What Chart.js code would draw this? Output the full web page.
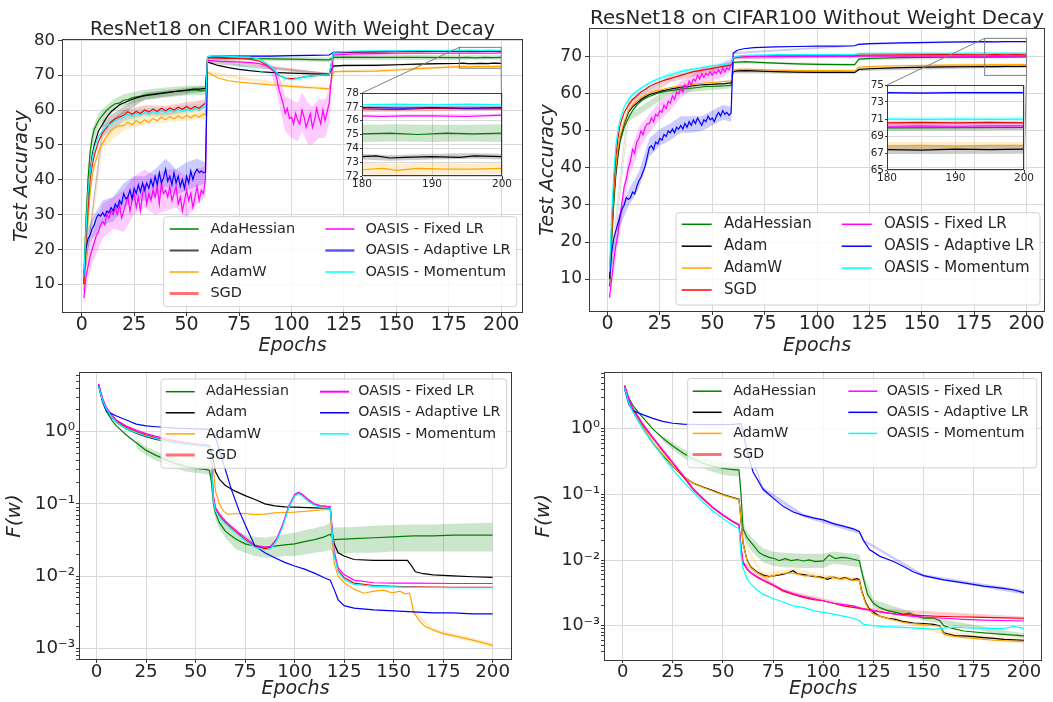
<!DOCTYPE html>
<html lang="en">
<head>
<meta charset="UTF-8">
<title>ResNet18 on CIFAR100</title>
<script src="https://cdn.jsdelivr.net/npm/chart.js"></script>
<style>
  body { margin: 0; background: #fff; width: 1053px; height: 702px; position: relative; overflow: hidden; }
  canvas { position: absolute; }
</style>
</head>
<body>
<canvas id="accWd"></canvas>
<canvas id="accNoWd"></canvas>
<canvas id="lossWd"></canvas>
<canvas id="lossNoWd"></canvas>
<canvas id="accWdZoom"></canvas>
<canvas id="accNoWdZoom"></canvas>
<script>
// ---------- series ----------
const seriesKeys = ['adahessian', 'adam', 'adamw', 'sgd', 'fixed', 'adaptive', 'momentum'];
const seriesNames = ['AdaHessian', 'Adam', 'AdamW', 'SGD', 'OASIS - Fixed LR', 'OASIS - Adaptive LR', 'OASIS - Momentum'];
const seriesColors = ['#008000', '#000000', '#ffa500', '#ff0000', '#ff00ff', '#0000ff', '#00ffff'];

const epochTicks = [0, 25, 50, 75, 100, 125, 150, 175, 200];
const accWdTicks = [10, 20, 30, 40, 50, 60, 70, 80];
const accNoWdTicks = [10, 20, 30, 40, 50, 60, 70];
const lossTicks = [0.001, 0.01, 0.1, 1];
const lossTickLabels = ['10\u207B\u00B3', '10\u207B\u00B2', '10\u207B\u00B9', '10\u2070'];
const zoomEpochTicks = [180, 190, 200];
const accWdZoomTicks = [72, 73, 74, 75, 76, 77, 78];
const accNoWdZoomTicks = [65, 67, 69, 71, 73, 75];

// ---------- test accuracy, with weight decay: [epoch, accuracy] ----------
const accWdAdaHessian = [[1,12],[2,28],[3,40],[4,48],[5,52],[6,54.5],[8,57],[10,58.5],[12,60],[14,61],[16,61.8],[18,62],[20,62.8],[22,63],[24,63.5],[26,63.8],[28,64],[30,64.3],[33,64.6],[36,64.8],[39,65],[42,65.2],[45,65.4],[48,65.5],[51,65.6],[54,65.8],[57,65.5],[59,65.6],[60,75.2],[62,75.2],[70,75],[80,74.8],[90,74.7],[100,74.6],[110,74.5],[118,74.4],[120,75.1],[125,75.2],[140,75.1],[160,75.1],[180,75.05],[184,75.1],[188,75],[192,75.1],[196,75.05],[200,75.1]];
const accWdAdam = [[1,10],[2,22],[3,34],[4,42],[5,47],[6,50],[8,54],[10,56],[12,58],[14,59.5],[16,60.5],[18,61.5],[20,62],[23,62.8],[26,63.5],[29,64],[32,64.3],[35,64.5],[38,64.8],[41,65],[44,65.3],[47,65.5],[50,65.7],[53,66],[56,66],[59,66.2],[60,73.8],[62,73.4],[65,72.8],[70,72.2],[75,71.7],[80,71.3],[85,71],[90,70.8],[100,70.6],[110,70.4],[118,70.3],[120,72.6],[125,72.8],[130,72.8],[140,72.8],[150,73],[160,73.2],[170,73.3],[180,73.4],[182,73.45],[184,73.3],[186,73.35],[190,73.4],[194,73.35],[196,73.45],[200,73.4]];
const accWdAdamW = [[1,8],[2,18],[3,28],[4,36],[5,41],[6,44],[8,48],[10,50.5],[12,52.5],[14,54],[16,55],[18,55.5],[20,55.5],[22,56.5],[24,55.8],[26,57],[28,56.2],[30,57.2],[32,56.5],[34,57.6],[36,56.9],[38,58],[40,57.2],[42,58.1],[44,57.5],[46,58.3],[48,57.6],[50,58.5],[52,57.8],[54,58.6],[56,58],[58,58.8],[59,58.6],[60,70.8],[62,70.2],[65,69.2],[70,68.4],[75,68],[80,67.7],[85,67.5],[90,67.2],[95,67],[100,66.8],[105,66.6],[110,66.4],[115,66.2],[118,66.1],[120,71],[125,71.1],[130,71.1],[140,71.2],[150,71.5],[160,71.9],[170,72.2],[180,72.45],[183,72.55],[185,72.4],[188,72.55],[192,72.5],[196,72.5],[200,72.55]];
const accWdSgd = [[1,10],[2,22],[3,32],[4,40],[5,44],[6,47],[8,51],[10,53.5],[12,55],[14,56.5],[16,57.5],[18,58],[20,58.5],[22,59.5],[24,58.8],[26,59.6],[28,59],[30,60],[32,59.4],[34,60.3],[36,59.6],[38,60.5],[40,59.8],[42,60.6],[44,60],[46,60.8],[48,60.2],[50,61],[52,60.3],[54,61],[56,60.5],[58,61.5],[59,62],[60,75],[62,75],[66,74.9],[70,74.8],[75,74.8],[80,74.6],[85,74],[88,73],[91,71.5],[94,70],[97,69.2],[100,69],[103,69.2],[106,69.5],[110,69.8],[114,70],[118,70.1],[120,76.4],[125,76.5],[130,76.6],[140,76.7],[150,76.8],[160,76.8],[170,76.85],[180,76.85],[185,76.8],[190,76.9],[195,76.85],[200,76.85]];
const accWdFixed = [[1,6],[2,12],[3,15],[4,18],[5,20],[6,22],[7,24],[8,25],[9,27],[10,28],[11,27],[12,30],[13,29],[14,31],[15,30],[16,32],[17,30],[18,33],[19,29],[20,31],[21,33],[22,35],[23,31],[24,34],[25,36],[26,32],[27,35],[28,31],[29,36],[30,38],[31,33],[32,36],[33,34],[34,37],[35,35],[36,38],[37,33],[38,39],[39,36],[40,37],[41,35],[42,38],[43,34],[44,36],[45,38],[46,33],[47,35],[48,31],[49,34],[50,37],[51,34],[52,36],[53,32],[54,35],[55,38],[56,34],[57,37],[58,36],[59,40],[60,74.3],[62,74.2],[66,74],[70,73.9],[75,73.8],[80,73.7],[85,73.3],[88,72.8],[90,72.2],[92,71],[93,69],[94,66],[95,64],[96,62],[97,59],[98,60.5],[99,57.5],[100,58],[101,56],[102,59],[103,57],[104,56],[105,60],[106,58],[107,55],[108,57],[109,59],[110,55],[111,57],[112,60.5],[113,58],[114,56],[115,60],[116,57],[117,59.5],[118,62],[120,75.8],[125,76],[130,76.1],[140,76.2],[150,76.3],[160,76.3],[170,76.3],[180,76.35],[183,76.3],[186,76.35],[190,76.35],[195,76.3],[200,76.4]];
const accWdAdaptive = [[1,12],[2,20],[3,23],[4,24],[5,26],[6,27],[7,29],[8,30],[9,29.5],[10,30.5],[11,29.5],[12,31],[13,30.5],[14,32],[15,31],[16,33],[17,32],[18,34],[19,33],[20,36],[21,34.5],[22,35],[23,37],[24,34.5],[25,37.5],[26,36],[27,38.5],[28,36.5],[29,39],[30,37],[31,39],[32,37.5],[33,40],[34,38],[35,41],[36,38.5],[37,42],[38,39],[39,40.5],[40,43],[41,39.5],[42,41],[43,38.5],[44,42],[45,39],[46,41],[47,38],[48,40],[49,37.5],[50,41],[51,39],[52,42.5],[53,40],[54,42],[55,43],[56,42],[57,42.5],[58,42],[59,42.2],[60,75.3],[62,75.4],[70,75.5],[80,75.5],[90,75.5],[100,75.6],[110,75.7],[118,75.8],[120,76.6],[125,76.7],[140,76.8],[160,76.9],[180,76.95],[186,76.9],[190,76.95],[195,76.9],[200,76.95]];
const accWdMomentum = [[1,12],[2,25],[3,36],[4,42],[5,46],[6,49],[8,52.5],[10,54],[12,55.5],[14,56],[16,57],[18,57.5],[20,58],[22,58.8],[24,58.2],[26,59],[28,58.5],[30,59.3],[32,58.8],[34,59.6],[36,59],[38,59.8],[40,59.3],[42,60],[44,59.4],[46,60.2],[48,59.6],[50,60.3],[52,59.8],[54,60.4],[56,60],[58,60.8],[59,61],[60,75.3],[62,75.5],[66,75.5],[70,75.4],[75,75.3],[80,75.2],[85,74.6],[88,73.5],[91,72],[94,70.2],[97,69],[100,68.7],[103,69],[106,69.5],[110,69.8],[114,70],[118,70.2],[120,76.6],[125,76.8],[130,76.9],[140,77],[150,77],[160,77.1],[170,77.1],[180,77.15],[185,77.2],[190,77.15],[195,77.2],[200,77.15]];

// shaded spread: [epoch, low, high]
const accWdAdaHessianBand = [[1,10,14],[3,37,43],[5,49.5,54.5],[8,55,59],[10,56.8,60.3],[15,59.5,63],[20,61.2,64.5],[30,62.8,65.8],[40,63.6,66.5],[50,64.2,67],[59,64.3,67],[60,74.5,75.9],[80,74.2,75.5],[100,74,75.3],[118,73.8,75.1],[120,74.4,75.8],[140,74.4,75.8],[160,74.4,75.8],[180,74.45,75.7],[185,74.5,75.75],[190,74.45,75.7],[195,74.5,75.7],[200,74.45,75.75]];
const accWdAdamBand = [[1,9,11],[10,55,57],[30,63,65],[59,65.3,67],[60,73.4,74.2],[118,69.9,70.7],[120,72.3,72.9],[150,72.7,73.3],[180,73.2,73.6],[184,73.1,73.5],[190,73.2,73.6],[196,73.25,73.65],[200,73.2,73.6]];
const accWdAdamWBand = [[1,7,9],[10,49,52],[20,54.2,57.2],[30,55.8,58.5],[40,56.4,59],[50,57,59.8],[59,57.5,60],[60,70.3,71.3],[100,66.3,67.3],[118,65.6,66.6],[120,70.6,71.4],[150,71.1,71.9],[170,71.8,72.6],[180,72.1,72.95],[185,72.05,72.9],[190,72.1,72.95],[195,72.1,72.9],[200,72.15,72.95]];
const accWdSgdBand = [[1,9,11],[10,52,55],[20,57,60],[30,58.6,61.4],[40,58.5,61.2],[50,59.6,62.2],[59,60.5,63],[60,74.7,75.3],[118,69.7,70.5],[120,76.2,76.6],[200,76.75,76.95]];
const accWdFixedBand = [[1,4,8],[3,11,19],[5,16,24],[10,23,33],[15,26,35],[20,25,37],[25,30,41],[30,32,43],[35,30,41],[40,31,43],[45,32,43],[50,29,41],[55,33,43],[59,35,44],[60,74,74.6],[85,73,73.6],[90,71.4,73],[93,65,72],[95,59,68],[97,54,64],[100,52,63],[103,51,62],[105,54,65],[108,50,62],[110,50,61],[113,52,63],[116,52,63],[118,56,66],[120,75.6,76],[180,76.25,76.45],[200,76.3,76.5]];
const accWdAdaptiveBand = [[1,10,14],[3,20,26],[5,23,29],[10,27,34],[15,28,35],[20,32,39],[25,34,41],[30,34,41],[35,35,43],[40,38,46],[45,35.5,43],[50,37,45],[55,38,46],[59,39,45],[60,75.1,75.5],[118,75.6,76],[120,76.4,76.8],[180,76.85,77.05],[200,76.85,77.05]];
const accWdMomentumBand = [[1,11,13],[10,52.5,55.5],[20,56.5,59.5],[30,58,60.6],[40,58,60.6],[50,59,61.6],[59,60,62],[60,75.1,75.5],[100,68.3,69.1],[118,69.8,70.6],[120,76.4,76.8],[180,77.05,77.25],[190,77.05,77.25],[200,77.05,77.25]];

// ---------- test accuracy, without weight decay ----------
const accNoWdAdaHessian = [[1,8],[2,20],[3,30],[4,38],[5,43],[6,47],[8,51],[10,53.5],[12,55.5],[14,57],[16,58],[18,58.8],[20,59.3],[23,60],[26,60.5],[29,60.8],[32,61],[35,61.3],[38,61.5],[41,61.6],[44,61.8],[47,62],[50,62],[53,62.1],[56,62.2],[59,62.3],[60,68.5],[62,68.6],[66,68.7],[70,68.6],[80,68.3],[90,68.1],[100,68],[110,67.9],[118,67.9],[120,69.4],[125,69.6],[140,69.8],[160,69.9],[180,69.95],[200,70]];
const accNoWdAdam = [[1,9],[2,22],[3,32],[4,39],[5,44],[6,48],[8,52],[10,55],[12,56.5],[14,57.5],[16,58.5],[18,59.2],[20,59.8],[23,60.3],[26,60.8],[29,61.2],[32,61.5],[35,61.8],[38,62],[41,62.2],[44,62.4],[47,62.5],[50,62.6],[53,62.7],[56,62.8],[59,63],[60,66],[62,66.2],[66,66.3],[70,66.2],[80,66],[90,65.9],[100,65.8],[110,65.8],[118,65.8],[120,66.6],[125,66.8],[140,67.1],[160,67.3],[180,67.4],[185,67.35],[190,67.45],[195,67.4],[200,67.45]];
const accNoWdAdamW = [[1,9],[2,22],[3,33],[4,40],[5,45],[6,48.5],[8,52.5],[10,55.5],[12,57],[14,58],[16,59],[18,59.6],[20,60.2],[23,60.8],[26,61.2],[29,61.6],[32,61.9],[35,62.2],[38,62.4],[41,62.6],[44,62.8],[47,63],[50,63.1],[53,63.2],[56,63.4],[59,63.5],[60,66.4],[62,66.6],[66,66.7],[70,66.6],[80,66.4],[90,66.3],[100,66.3],[110,66.3],[118,66.2],[120,67.2],[125,67.4],[140,67.6],[160,67.8],[180,67.85],[185,67.9],[190,67.85],[195,67.9],[200,67.9]];
const accNoWdSgd = [[1,10],[2,24],[3,35],[4,43],[5,48],[6,51.5],[8,55],[10,57],[12,58.5],[14,59.5],[16,60.5],[18,61.2],[20,62],[23,62.8],[26,63.5],[29,64],[32,64.5],[35,65],[38,65.5],[41,66],[44,66.3],[47,66.6],[50,66.9],[53,67.2],[56,67.5],[59,67.8],[60,69.6],[62,69.9],[66,70.1],[70,70.2],[80,70.3],[90,70.3],[100,70.3],[110,70.3],[118,70.3],[120,70.5],[140,70.55],[160,70.6],[180,70.55],[185,70.6],[190,70.55],[195,70.6],[200,70.55]];
const accNoWdFixed = [[1,5],[2,10],[3,15],[4,19],[5,22],[6,27],[7,31],[8,35],[9,37],[10,40],[11,42],[12,45],[13,44],[14,47],[15,48],[16,50],[17,49],[18,51],[19,52],[20,52],[21,53.5],[22,52.5],[23,54.5],[24,54],[25,55.5],[26,55],[27,57],[28,56],[29,58],[30,57.5],[31,59.5],[32,58.5],[33,60.5],[34,60],[35,61.5],[36,60.5],[37,62.5],[38,61.5],[39,63.5],[40,62.5],[41,64],[42,63.5],[43,65],[44,64],[45,65.5],[46,64.5],[47,65.5],[48,65],[49,66],[50,65],[51,66],[52,65.5],[53,66.5],[54,65.5],[55,67],[56,66],[57,67],[58,66.5],[59,68],[60,69.8],[62,70],[66,70],[70,70.1],[80,70.1],[90,70.1],[100,70.1],[110,70.1],[118,70.1],[120,70.2],[140,70.2],[160,70.2],[180,70.15],[185,70.2],[190,70.15],[195,70.2],[200,70.2]];
const accNoWdAdaptive = [[1,10],[2,17],[3,21],[4,23],[5,25],[6,27],[7,29],[8,30],[9,32],[10,31.5],[11,32],[12,33.5],[13,33],[14,35],[15,36.5],[16,37.5],[17,39],[18,40.5],[19,43],[20,45.5],[21,46],[22,45],[23,47],[24,46.5],[25,48],[26,47.5],[27,49],[28,48.5],[29,50],[30,49.5],[31,50.5],[32,49.5],[33,51],[34,50.5],[35,51.5],[36,50.5],[37,52],[38,51],[39,52.5],[40,51.5],[41,53],[42,52],[43,53.5],[44,52.5],[45,51.5],[46,53],[47,52.5],[48,54],[49,53],[50,53.5],[51,52.5],[52,54],[53,55],[54,54],[55,55.5],[56,54.5],[57,55],[58,54.2],[59,54.8],[60,71],[62,71.8],[65,72.2],[70,72.5],[80,72.7],[90,72.8],[100,72.9],[110,72.9],[118,73],[120,73.4],[125,73.6],[140,73.8],[160,74],[180,74.1],[185,74.05],[190,74.1],[195,74.1],[200,74.1]];
const accNoWdMomentum = [[1,12],[2,27],[3,38],[4,46],[5,50],[6,53],[8,56.5],[10,58.5],[12,59.8],[14,60.8],[16,61.6],[18,62.3],[20,63],[23,63.8],[26,64.5],[29,65],[32,65.5],[35,66],[38,66.4],[41,66.7],[44,67],[47,67.3],[50,67.6],[53,67.8],[56,68],[59,68.3],[60,69.8],[62,70.2],[66,70.4],[70,70.5],[80,70.6],[90,70.6],[100,70.6],[110,70.6],[118,70.6],[120,70.9],[140,70.95],[160,70.95],[180,71],[185,70.95],[190,71],[195,70.95],[200,71]];

const accNoWdAdaHessianBand = [[1,7,9],[10,52.5,54.5],[30,60,61.8],[59,61.5,63.1],[60,68.2,68.8],[118,67.6,68.2],[120,69.1,69.7],[200,69.7,70.3]];
const accNoWdAdamBand = [[60,65.6,66.4],[118,65.4,66.2],[120,66.2,67],[180,66.95,67.8],[200,67,67.85]];
const accNoWdAdamWBand = [[60,66,66.8],[118,65.8,66.6],[120,66.8,67.6],[180,67.45,68.3],[200,67.5,68.3]];
const accNoWdSgdBand = [[1,9,11],[10,56,58],[30,63.2,65],[59,67,68.6],[60,69.3,69.9],[118,70,70.6],[200,70.4,70.75]];
const accNoWdFixedBand = [[1,4,6],[5,19,25],[10,37,43],[15,45,51],[20,49.5,54.5],[25,53,58],[30,55.5,60],[35,59,63.5],[40,61,65],[45,63,67],[50,63.5,67],[55,64.5,68.5],[59,66,69.5],[60,69.5,70.1],[118,69.7,70.6],[200,69.7,70.6]];
const accNoWdAdaptiveBand = [[1,9,11],[5,23,27],[10,29.5,34],[15,34.5,39],[20,43,48],[25,46,50.5],[30,47.5,52],[35,49.5,54],[40,49.5,54],[45,50,54],[50,51.5,55.5],[55,53,57],[59,52.5,56.5],[60,70.7,71.3],[118,72.8,73.2],[120,73.2,73.6],[180,73.95,74.2],[200,73.95,74.2]];
const accNoWdMomentumBand = [[1,11,13],[10,57.5,59.5],[30,64.2,66],[59,67.5,69],[60,69.5,70.2],[118,70.2,71],[120,70.6,71.3],[200,70.6,71.3]];

// ---------- training loss F(w), with weight decay ----------
const lossWdAdaHessian = [[1,4.3],[3,2.6],[5,1.9],[8,1.4],[10,1.2],[15,0.9],[20,0.7],[25,0.55],[30,0.47],[35,0.41],[40,0.36],[45,0.33],[50,0.31],[55,0.3],[57,0.29],[58,0.2],[59,0.1],[60,0.075],[62,0.055],[65,0.042],[70,0.033],[75,0.028],[80,0.026],[85,0.025],[90,0.026],[95,0.027],[100,0.028],[105,0.03],[110,0.032],[115,0.035],[118,0.038],[119,0.034],[120,0.032],[130,0.033],[140,0.034],[150,0.035],[160,0.036],[170,0.036],[180,0.037],[190,0.037],[200,0.037]];
const lossWdAdam = [[1,4.3],[3,2.7],[5,2.0],[8,1.55],[10,1.35],[15,1.1],[20,0.95],[25,0.85],[30,0.78],[40,0.7],[50,0.65],[57,0.62],[59,0.4],[60,0.28],[62,0.22],[65,0.18],[70,0.15],[75,0.13],[80,0.115],[85,0.1],[90,0.094],[95,0.091],[100,0.09],[110,0.088],[118,0.087],[119,0.04],[120,0.028],[122,0.021],[125,0.019],[130,0.017],[140,0.0165],[150,0.0165],[157,0.0165],[159,0.014],[161,0.0115],[165,0.0108],[170,0.0104],[180,0.0101],[190,0.0098],[200,0.0096]];
const lossWdAdamW = [[1,4.4],[3,2.7],[5,2.05],[10,1.4],[20,1.0],[30,0.82],[40,0.73],[50,0.66],[57,0.63],[59,0.3],[60,0.15],[62,0.1],[64,0.08],[66,0.072],[70,0.073],[75,0.074],[80,0.071],[85,0.072],[90,0.075],[95,0.076],[100,0.077],[105,0.079],[110,0.081],[115,0.083],[118,0.084],[119,0.03],[120,0.015],[122,0.01],[125,0.0081],[130,0.0066],[135,0.0058],[140,0.0062],[145,0.0064],[148,0.006],[150,0.0059],[153,0.0062],[156,0.0057],[158,0.0058],[159,0.0045],[160,0.0032],[163,0.0024],[166,0.002],[170,0.0018],[175,0.0016],[180,0.0015],[185,0.0014],[190,0.0013],[195,0.0012],[200,0.0011]];
const lossWdSgd = [[1,4.5],[3,2.8],[5,2.1],[8,1.6],[10,1.4],[15,1.15],[20,1.0],[25,0.9],[30,0.82],[35,0.76],[40,0.72],[45,0.69],[50,0.66],[55,0.64],[57,0.62],[58,0.35],[59,0.12],[60,0.085],[62,0.07],[65,0.055],[70,0.042],[75,0.032],[80,0.026],[85,0.024],[88,0.025],[91,0.032],[94,0.05],[97,0.09],[100,0.13],[102,0.14],[104,0.13],[107,0.11],[110,0.098],[113,0.092],[116,0.09],[118,0.089],[119,0.04],[120,0.02],[122,0.012],[125,0.0095],[130,0.008],[140,0.0074],[150,0.0072],[160,0.0071],[180,0.007],[200,0.007]];
const lossWdFixed = [[1,4.6],[3,2.9],[5,2.15],[8,1.65],[10,1.45],[15,1.2],[20,1.05],[25,0.94],[30,0.86],[35,0.8],[40,0.75],[45,0.71],[50,0.68],[55,0.66],[57,0.64],[58,0.36],[59,0.13],[60,0.09],[62,0.073],[65,0.058],[70,0.044],[75,0.034],[80,0.027],[85,0.025],[88,0.026],[91,0.033],[94,0.052],[97,0.093],[100,0.135],[102,0.145],[104,0.135],[107,0.115],[110,0.1],[113,0.095],[116,0.093],[118,0.092],[119,0.045],[120,0.022],[122,0.013],[125,0.0105],[130,0.0088],[140,0.0081],[150,0.008],[160,0.008],[180,0.0079],[200,0.0079]];
const lossWdAdaptive = [[1,4.4],[3,2.6],[5,1.9],[8,1.75],[10,1.65],[15,1.45],[20,1.27],[25,1.2],[30,1.17],[40,1.12],[50,1.09],[58,1.07],[60,0.85],[62,0.55],[65,0.3],[68,0.16],[72,0.08],[76,0.045],[80,0.026],[85,0.021],[90,0.018],[95,0.0155],[100,0.0138],[105,0.0125],[110,0.011],[115,0.0095],[118,0.0088],[120,0.0065],[122,0.0047],[125,0.0039],[130,0.0036],[140,0.0034],[150,0.0033],[160,0.0032],[170,0.0031],[180,0.0031],[190,0.003],[200,0.003]];
const lossWdMomentum = [[1,4.3],[3,2.7],[5,2.05],[8,1.55],[10,1.35],[15,1.1],[20,0.97],[25,0.87],[30,0.8],[35,0.74],[40,0.7],[45,0.67],[50,0.64],[55,0.62],[57,0.6],[58,0.33],[59,0.11],[60,0.08],[62,0.066],[65,0.052],[70,0.04],[75,0.031],[80,0.025],[85,0.023],[88,0.024],[91,0.031],[94,0.048],[97,0.088],[100,0.128],[102,0.138],[104,0.128],[107,0.108],[110,0.096],[113,0.09],[116,0.088],[118,0.087],[119,0.04],[120,0.019],[122,0.0115],[125,0.009],[130,0.0077],[140,0.0072],[150,0.0071],[160,0.007],[180,0.0069],[200,0.0069]];

const lossWdAdaHessianBand = [[20,0.6,0.78],[25,0.47,0.62],[30,0.4,0.54],[35,0.35,0.47],[40,0.31,0.42],[45,0.28,0.38],[50,0.27,0.35],[55,0.26,0.34],[57,0.25,0.33],[58,0.17,0.23],[59,0.085,0.12],[60,0.062,0.09],[62,0.045,0.066],[65,0.034,0.05],[70,0.024,0.042],[75,0.021,0.037],[80,0.019,0.035],[85,0.018,0.034],[90,0.018,0.036],[95,0.019,0.038],[100,0.019,0.04],[105,0.02,0.043],[110,0.021,0.046],[115,0.022,0.05],[118,0.023,0.055],[119,0.021,0.05],[120,0.02,0.047],[130,0.021,0.048],[140,0.021,0.05],[150,0.022,0.051],[160,0.022,0.052],[170,0.022,0.052],[180,0.022,0.053],[190,0.022,0.054],[200,0.022,0.055]];
const lossWdAdamWBand = [[159,0.0042,0.0048],[160,0.003,0.0035],[170,0.0017,0.0019],[180,0.0014,0.0016],[190,0.00122,0.0014],[200,0.00102,0.0012]];

// ---------- training loss F(w), without weight decay ----------
const lossNoWdAdaHessian = [[1,4.6],[3,3.0],[5,2.3],[8,1.75],[10,1.5],[15,1.0],[20,0.72],[25,0.55],[30,0.43],[35,0.35],[40,0.3],[45,0.27],[50,0.25],[55,0.24],[58,0.235],[59,0.1],[60,0.03],[62,0.022],[65,0.017],[68,0.013],[70,0.012],[73,0.011],[76,0.0105],[78,0.0098],[81,0.0105],[84,0.0098],[87,0.0102],[90,0.0097],[93,0.0101],[96,0.0095],[100,0.0097],[103,0.012],[106,0.0105],[109,0.011],[112,0.0108],[115,0.0103],[118,0.0098],[119,0.007],[120,0.0052],[122,0.003],[125,0.0022],[128,0.0019],[132,0.0017],[136,0.0016],[140,0.0015],[143,0.00155],[145,0.00145],[150,0.0013],[155,0.0013],[158,0.0012],[160,0.001],[165,0.0009],[170,0.00083],[180,0.00078],[190,0.00074],[200,0.0007]];
const lossNoWdAdam = [[1,4.3],[3,2.6],[5,1.9],[8,1.3],[10,1.05],[15,0.62],[20,0.4],[25,0.27],[30,0.19],[35,0.15],[40,0.13],[45,0.115],[50,0.1],[55,0.09],[58,0.085],[59,0.04],[60,0.018],[62,0.01],[64,0.0078],[67,0.0066],[70,0.0059],[73,0.0056],[76,0.0058],[79,0.006],[82,0.0063],[85,0.0069],[87,0.0062],[90,0.006],[93,0.0058],[96,0.0056],[99,0.0055],[102,0.0051],[105,0.0055],[108,0.0052],[111,0.0054],[114,0.005],[117,0.0052],[118,0.005],[119,0.0035],[121,0.0023],[123,0.0018],[125,0.0016],[128,0.0014],[132,0.0013],[136,0.00125],[140,0.00115],[145,0.0011],[150,0.00108],[155,0.00105],[158,0.001],[160,0.00078],[163,0.00074],[166,0.0007],[170,0.0007],[175,0.00068],[180,0.00066],[185,0.00064],[190,0.00062],[195,0.00061],[200,0.0006]];
const lossNoWdAdamW = [[1,4.4],[3,2.65],[5,1.95],[8,1.32],[10,1.07],[15,0.63],[20,0.41],[25,0.275],[30,0.19],[35,0.148],[40,0.128],[45,0.112],[50,0.098],[55,0.088],[58,0.083],[59,0.04],[60,0.018],[62,0.0098],[64,0.0076],[67,0.0064],[70,0.0057],[73,0.0055],[76,0.0059],[79,0.0062],[82,0.0064],[85,0.0063],[88,0.006],[91,0.0057],[94,0.0059],[97,0.0055],[100,0.0052],[103,0.0056],[106,0.0053],[109,0.0051],[112,0.0054],[115,0.0049],[118,0.0049],[119,0.0034],[121,0.0022],[123,0.0017],[125,0.0015],[128,0.0014],[132,0.00128],[136,0.0012],[140,0.00112],[145,0.00107],[150,0.00104],[155,0.001],[158,0.00098],[160,0.00075],[163,0.0007],[166,0.00068],[170,0.00066],[175,0.00064],[180,0.00062],[185,0.0006],[190,0.00059],[195,0.00058],[200,0.00057]];
const lossNoWdSgd = [[1,4.5],[3,2.8],[5,2.0],[8,1.45],[10,1.15],[15,0.72],[20,0.46],[25,0.3],[30,0.19],[35,0.12],[40,0.085],[45,0.062],[50,0.048],[55,0.038],[58,0.034],[59,0.015],[60,0.009],[62,0.0072],[64,0.0063],[67,0.0055],[70,0.0049],[75,0.0041],[80,0.0034],[85,0.003],[90,0.0027],[95,0.0025],[100,0.0024],[105,0.0022],[110,0.002],[115,0.0019],[120,0.0018],[125,0.0017],[130,0.0016],[136,0.0015],[145,0.00145],[155,0.0014],[165,0.00137],[175,0.00135],[185,0.00133],[200,0.0013]];
const lossNoWdFixed = [[1,4.6],[3,2.9],[5,2.1],[8,1.5],[10,1.2],[15,0.75],[20,0.48],[25,0.31],[30,0.2],[35,0.125],[40,0.088],[45,0.064],[50,0.049],[55,0.039],[58,0.035],[59,0.016],[60,0.0095],[62,0.0074],[64,0.0064],[67,0.0056],[70,0.005],[75,0.0042],[80,0.0035],[85,0.0031],[90,0.0028],[95,0.0026],[100,0.0024],[105,0.0022],[110,0.0021],[115,0.002],[120,0.0018],[125,0.0017],[130,0.0016],[136,0.0015],[140,0.00143],[150,0.00135],[160,0.0013],[170,0.00125],[180,0.00122],[190,0.0012],[200,0.00118]];
const lossNoWdAdaptive = [[1,4.0],[3,2.4],[5,1.9],[7,1.8],[10,1.65],[15,1.45],[20,1.3],[25,1.22],[30,1.18],[40,1.16],[50,1.16],[55,1.17],[59,1.2],[60,0.9],[62,0.45],[65,0.22],[70,0.12],[75,0.088],[80,0.066],[85,0.054],[90,0.048],[95,0.044],[100,0.041],[105,0.036],[110,0.033],[115,0.03],[118,0.027],[120,0.02],[123,0.0145],[128,0.0115],[135,0.0095],[140,0.008],[145,0.0066],[150,0.0058],[160,0.005],[170,0.0045],[180,0.004],[190,0.0037],[195,0.0035],[200,0.0032]];
const lossNoWdMomentum = [[1,4.2],[3,2.5],[5,1.85],[8,1.3],[10,1.0],[15,0.6],[20,0.38],[25,0.24],[30,0.16],[35,0.11],[40,0.077],[45,0.056],[50,0.043],[55,0.034],[58,0.03],[59,0.012],[60,0.0075],[62,0.0052],[64,0.0043],[67,0.0035],[70,0.003],[75,0.0026],[80,0.0023],[85,0.002],[90,0.0019],[95,0.0017],[100,0.0016],[105,0.0015],[110,0.0014],[115,0.0013],[118,0.0012],[120,0.00105],[125,0.001],[130,0.00097],[140,0.00094],[150,0.0009],[155,0.00088],[160,0.00092],[165,0.00095],[170,0.00093],[180,0.00092],[190,0.0009],[195,0.00098],[200,0.0009]];

const lossNoWdAdaHessianBand = [[20,0.64,0.8],[25,0.48,0.62],[30,0.37,0.5],[35,0.29,0.42],[40,0.25,0.36],[45,0.22,0.33],[50,0.2,0.31],[55,0.19,0.3],[58,0.19,0.29],[59,0.08,0.12],[60,0.024,0.037],[62,0.017,0.027],[65,0.013,0.021],[70,0.0092,0.015],[75,0.0082,0.0135],[80,0.0078,0.013],[90,0.0076,0.0125],[100,0.0076,0.0125],[105,0.0088,0.0135],[110,0.0085,0.013],[118,0.0077,0.0122],[119,0.0058,0.0085],[120,0.0044,0.0061],[125,0.0019,0.0025],[150,0.0012,0.0014],[200,0.00064,0.00076]];
const lossNoWdAdamWBand = [[60,0.017,0.02],[70,0.0054,0.0064],[85,0.0063,0.0075],[100,0.005,0.006],[118,0.0046,0.0055],[125,0.0015,0.0017],[160,0.00072,0.00084],[200,0.00053,0.00063]];
const lossNoWdSgdBand = [[60,0.0085,0.0095],[80,0.0032,0.0036],[120,0.0017,0.0019],[200,0.00122,0.00138]];
const lossNoWdAdaptiveBand = [[60,0.85,0.95],[70,0.11,0.13],[90,0.045,0.051],[118,0.025,0.029],[120,0.019,0.021],[150,0.0055,0.0061],[200,0.003,0.0035]];

// ---------- look ----------
const FONT = '"DejaVu Sans", sans-serif';
const TEXT = '#262626';
const SPINE = '#3a3a3a';
const GRID = '#d9d9d9';

function rgba(hex, a) {
  const n = parseInt(hex.slice(1), 16);
  return `rgba(${n >> 16},${(n >> 8) & 255},${n & 255},${a})`;
}

function makeDatasets(lines, bands) {
  const sets = [];
  seriesKeys.forEach((k, i) => {
    const band = bands[k];
    if (!band) return;
    sets.push({ data: band.map(p => [p[0], p[2]]), borderColor: 'transparent', borderWidth: 0, pointRadius: 0,
      backgroundColor: rgba(seriesColors[i], 0.2), fill: '+1', order: 100 });
    sets.push({ data: band.map(p => [p[0], p[1]]), borderColor: 'transparent', borderWidth: 0, pointRadius: 0,
      fill: false, order: 100 });
  });
  seriesKeys.forEach((k, i) => {
    sets.push({ label: seriesNames[i], data: lines[k], borderColor: seriesColors[i], borderWidth: 1.2,
      pointRadius: 0, fill: false, tension: 0, order: 10 - i });
  });
  return sets;
}

const framePlugin = {
  id: 'frame',
  afterDatasetsDraw(chart) {
    const { ctx, chartArea: a } = chart;
    ctx.save();
    ctx.strokeStyle = SPINE;
    ctx.lineWidth = 1;
    ctx.strokeRect(Math.round(a.left) + 0.5, Math.round(a.top) + 0.5,
      Math.round(a.right - a.left) - 1, Math.round(a.bottom - a.top) - 1);
    ctx.restore();
  }
};

function titlePlugin(text, size, lift) {
  return {
    id: 'panelTitle',
    afterDraw(chart) {
      const { ctx, chartArea: a } = chart;
      ctx.save();
      ctx.font = `${size}px ${FONT}`;
      ctx.fillStyle = TEXT;
      ctx.textAlign = 'center';
      ctx.textBaseline = 'alphabetic';
      ctx.fillText(text, (a.left + a.right) / 2, a.top - lift);
      ctx.restore();
    }
  };
}

function legendPlugin(L) {
  return {
    id: 'boxLegend',
    afterDraw(chart) {
      const { ctx, chartArea: a } = chart;
      const x0 = a.right - L.right - L.w;
      const y0 = L.top !== undefined ? a.top + L.top : a.bottom - L.bottom - L.h;
      ctx.save();
      ctx.beginPath();
      ctx.roundRect(x0, y0, L.w, L.h, 3);
      ctx.fillStyle = 'rgba(255,255,255,0.8)';
      ctx.fill();
      ctx.strokeStyle = '#d0d0d0';
      ctx.lineWidth = 1;
      ctx.stroke();
      ctx.font = `${L.font}px ${FONT}`;
      ctx.textBaseline = 'middle';
      seriesNames.forEach((name, i) => {
        const col = i < 4 ? 0 : 1;
        const row = i < 4 ? i : i - 4;
        const y = y0 + L.row0 + row * L.rowH;
        const hx = x0 + L.cols[col][0];
        const st = (L.handles && L.handles[seriesKeys[i]]) || {};
        ctx.beginPath();
        ctx.moveTo(hx, y);
        ctx.lineTo(hx + L.handleLen, y);
        ctx.strokeStyle = st.color || seriesColors[i];
        ctx.lineWidth = st.width || 1.5;
        ctx.stroke();
        ctx.fillStyle = TEXT;
        ctx.fillText(name, x0 + L.cols[col][1], y);
      });
      ctx.restore();
    }
  };
}

// rectangle marking the zoomed region plus two connector lines to the inset
function insetMarkPlugin(inset, range) {
  return {
    id: 'insetMark',
    afterDatasetsDraw(chart) {
      const { ctx } = chart;
      const xs = chart.scales.x, ys = chart.scales.y;
      const x1 = xs.getPixelForValue(range.x[0]), x2 = xs.getPixelForValue(range.x[1]);
      const y1 = ys.getPixelForValue(range.y[1]), y2 = ys.getPixelForValue(range.y[0]);
      const dx = inset.canvas.offsetLeft - chart.canvas.offsetLeft;
      const dy = inset.canvas.offsetTop - chart.canvas.offsetTop;
      const ia = inset.chartArea;
      ctx.save();
      ctx.strokeStyle = '#808080';
      ctx.lineWidth = 1;
      ctx.strokeRect(x1, y1, x2 - x1, y2 - y1);
      ctx.beginPath();
      ctx.moveTo(x1, y1);
      ctx.lineTo(ia.left + dx, ia.top + dy);
      ctx.moveTo(x2, y2);
      ctx.lineTo(ia.right + dx, ia.bottom + dy);
      ctx.stroke();
      ctx.restore();
    }
  };
}

function minorLogTicks(min, max) {
  const out = [];
  for (let d = 1e-4; d < 10; d *= 10) {
    for (let m = 2; m <= 9; m++) {
      const v = m * d;
      if (v > min && v < max) out.push({ value: v, minor: true });
    }
  }
  return out;
}

function xAxis(p) {
  return {
    type: 'linear', min: p.xRange[0], max: p.xRange[1],
    afterBuildTicks: s => { s.ticks = p.xTicks.map(v => ({ value: v })); },
    afterFit: s => { s.height = p.xH; },
    ticks: { autoSkip: false, maxRotation: 0, padding: 0, color: TEXT,
      font: { family: FONT, size: p.xFont, lineHeight: 1 }, callback: v => String(v) },
    grid: { color: GRID, tickColor: SPINE, tickLength: 3 },
    border: { display: false },
    title: p.xTitle ? { display: true, text: p.xTitle, color: TEXT,
      font: { family: FONT, size: 19, style: 'italic' }, padding: { top: 0, bottom: p.xTitlePad } } : { display: false }
  };
}

function yAxis(p) {
  const isLog = !!p.logLabels;
  return {
    type: isLog ? 'logarithmic' : 'linear', min: p.yRange[0], max: p.yRange[1],
    afterBuildTicks: s => {
      const major = p.yTicks.map(v => ({ value: v }));
      s.ticks = isLog ? major.concat(minorLogTicks(p.yRange[0], p.yRange[1])).sort((a, b) => a.value - b.value) : major;
    },
    afterFit: s => { s.width = p.yW; },
    ticks: { autoSkip: false, padding: p.yPad, color: TEXT,
      font: { family: FONT, size: p.yFont },
      callback: v => {
        const i = p.yTicks.indexOf(v);
        if (i < 0) return '';
        return isLog ? p.logLabels[i] : String(v);
      } },
    grid: { color: c => (c.tick && c.tick.minor) ? 'rgba(0,0,0,0)' : GRID, tickColor: SPINE,
      tickLength: p.yTickLen },
    border: { display: false },
    title: p.yTitle ? { display: true, text: p.yTitle, color: TEXT,
      font: { family: FONT, size: p.yTitleSize, style: 'italic' }, padding: { top: p.yTitlePad, bottom: 0 } } : { display: false }
  };
}

function makePanel(id, p, extraPlugins) {
  const canvas = document.getElementById(id);
  canvas.width = p.box[2];
  canvas.height = p.box[3];
  canvas.style.left = p.box[0] + 'px';
  canvas.style.top = p.box[1] + 'px';
  return new Chart(canvas, {
    type: 'line',
    data: { datasets: makeDatasets(p.lines, p.bands) },
    options: {
      responsive: false, animation: false, devicePixelRatio: 1, events: [],
      layout: { padding: { top: p.padTop, right: p.padRight, left: 0, bottom: 0 } },
      plugins: { legend: { display: false }, tooltip: { enabled: false } },
      scales: { x: xAxis(p), y: yAxis(p) }
    },
    plugins: [framePlugin].concat(extraPlugins || [])
  });
}

const accWdLines = { adahessian: accWdAdaHessian, adam: accWdAdam, adamw: accWdAdamW, sgd: accWdSgd, fixed: accWdFixed, adaptive: accWdAdaptive, momentum: accWdMomentum };
const accWdBands = { adahessian: accWdAdaHessianBand, adam: accWdAdamBand, adamw: accWdAdamWBand, sgd: accWdSgdBand, fixed: accWdFixedBand, adaptive: accWdAdaptiveBand, momentum: accWdMomentumBand };
const accNoWdLines = { adahessian: accNoWdAdaHessian, adam: accNoWdAdam, adamw: accNoWdAdamW, sgd: accNoWdSgd, fixed: accNoWdFixed, adaptive: accNoWdAdaptive, momentum: accNoWdMomentum };
const accNoWdBands = { adahessian: accNoWdAdaHessianBand, adam: accNoWdAdamBand, adamw: accNoWdAdamWBand, sgd: accNoWdSgdBand, fixed: accNoWdFixedBand, adaptive: accNoWdAdaptiveBand, momentum: accNoWdMomentumBand };
const lossWdLines = { adahessian: lossWdAdaHessian, adam: lossWdAdam, adamw: lossWdAdamW, sgd: lossWdSgd, fixed: lossWdFixed, adaptive: lossWdAdaptive, momentum: lossWdMomentum };
const lossWdBands = { adahessian: lossWdAdaHessianBand, adamw: lossWdAdamWBand };
const lossNoWdLines = { adahessian: lossNoWdAdaHessian, adam: lossNoWdAdam, adamw: lossNoWdAdamW, sgd: lossNoWdSgd, fixed: lossNoWdFixed, adaptive: lossNoWdAdaptive, momentum: lossNoWdMomentum };
const lossNoWdBands = { adahessian: lossNoWdAdaHessianBand, adamw: lossNoWdAdamWBand, sgd: lossNoWdSgdBand, adaptive: lossNoWdAdaptiveBand };

const accWdZoomRange = { x: [180, 200], y: [72, 78] };
const accNoWdZoomRange = { x: [180, 200], y: [65, 75] };

// insets first, so the main panels can connect to them
const accWdInset = makePanel('accWdZoom', {
  box: [336, 85, 180, 110], padTop: 8, padRight: 14, xH: 19, yW: 26,
  lines: accWdLines, bands: accWdBands,
  xRange: accWdZoomRange.x, xTicks: zoomEpochTicks, xFont: 10.5,
  yRange: accWdZoomRange.y, yTicks: accWdZoomTicks, yFont: 10.5, yPad: 1, yTickLen: 2
});
const accNoWdInset = makePanel('accNoWdZoom', {
  box: [860, 77, 193, 112], padTop: 8, padRight: 29, xH: 19, yW: 27,
  lines: accNoWdLines, bands: accNoWdBands,
  xRange: accNoWdZoomRange.x, xTicks: zoomEpochTicks, xFont: 10.5,
  yRange: accNoWdZoomRange.y, yTicks: accNoWdZoomTicks, yFont: 10.5, yPad: 1, yTickLen: 2
});

makePanel('accWd', {
  box: [0, 0, 530, 360], padTop: 39, padRight: 7, xH: 47, yW: 62,
  lines: accWdLines, bands: accWdBands,
  xRange: [-9.4, 210.4], xTicks: epochTicks, xFont: 19, xTitle: 'Epochs', xTitlePad: 2.6,
  yRange: [1.7, 80.4], yTicks: accWdTicks, yFont: 16.5, yPad: 3, yTickLen: 4,
  yTitle: 'Test Accuracy', yTitleSize: 19, yTitlePad: 10.6
}, [titlePlugin('ResNet18 on CIFAR100 With Weight Decay', 19, 4),
    insetMarkPlugin(accWdInset, accWdZoomRange),
    legendPlugin({ bottom: 6.3, right: 6.3, w: 353, h: 90, row0: 12.3, rowH: 21.5, handleLen: 29, font: 14.5,
      cols: [[6, 46.7], [161.7, 201.7]],
      handles: { adam: { color: 'rgba(0,0,0,0.7)', width: 2 }, sgd: { color: 'rgba(255,0,0,0.55)', width: 3 },
        adaptive: { color: 'rgba(0,0,255,0.65)', width: 2.5 } } })]);

makePanel('accNoWd', {
  box: [530, 0, 523, 360], padTop: 28, padRight: 8, xH: 48, yW: 59,
  lines: accNoWdLines, bands: accNoWdBands,
  xRange: [-8.8, 208.8], xTicks: epochTicks, xFont: 19, xTitle: 'Epochs', xTitlePad: 2.6,
  yRange: [1.1, 77.8], yTicks: accNoWdTicks, yFont: 17, yPad: 3, yTickLen: 4,
  yTitle: 'Test Accuracy', yTitleSize: 19, yTitlePad: 6.6
}, [titlePlugin('ResNet18 on CIFAR100 Without Weight Decay', 19.8, 3.7),
    insetMarkPlugin(accNoWdInset, accNoWdZoomRange),
    legendPlugin({ bottom: 7, right: 5, w: 364, h: 92.3, row0: 11.6, rowH: 21.9, handleLen: 30, font: 15,
      cols: [[5.7, 48], [165.7, 208]] })]);

makePanel('lossWd', {
  box: [0, 360, 530, 342], padTop: 7, padRight: 18, xH: 42, yW: 79,
  lines: lossWdLines, bands: lossWdBands,
  xRange: [-8.9, 209.8], xTicks: epochTicks, xFont: 18.3, xTitle: 'Epochs', xTitlePad: 1.1,
  yRange: [0.00069, 6.7], yTicks: lossTicks, logLabels: lossTickLabels, yFont: 18.3, yPad: 1, yTickLen: 3,
  yTitle: 'F(w)', yTitleSize: 20, yTitlePad: 3
}, [legendPlugin({ top: 7, right: 5.3, w: 345.7, h: 89.3, row0: 12.7, rowH: 21.1, handleLen: 29, font: 14.2,
      cols: [[4.7, 45], [159, 197.3]],
      handles: { sgd: { color: 'rgba(255,0,0,0.55)', width: 3 }, fixed: { width: 2 } } })]);

makePanel('lossNoWd', {
  box: [530, 360, 523, 342], padTop: 7, padRight: 11, xH: 42, yW: 74,
  lines: lossNoWdLines, bands: lossNoWdBands,
  xRange: [-9.3, 209], xTicks: epochTicks, xFont: 18, xTitle: 'Epochs', xTitlePad: 1.1,
  yRange: [0.00032, 7.5], yTicks: lossTicks, logLabels: lossTickLabels, yFont: 17.5, yPad: 1, yTickLen: 3,
  yTitle: 'F(w)', yTitleSize: 20, yTitlePad: 1.7
}, [legendPlugin({ top: 7, right: 5.3, w: 349, h: 89.3, row0: 12.7, rowH: 21.1, handleLen: 29, font: 14.2,
      cols: [[5, 45.6], [160.6, 199]],
      handles: { sgd: { color: 'rgba(255,0,0,0.55)', width: 3 } } })]);
</script>
</body>
</html>
